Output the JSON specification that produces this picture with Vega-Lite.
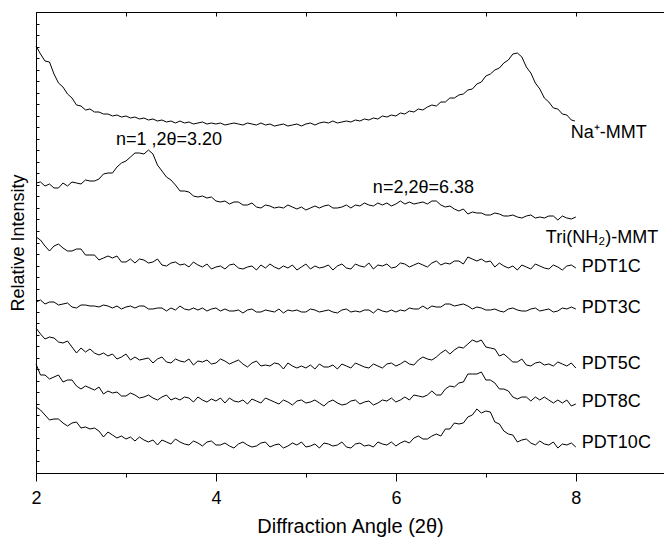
{
"$schema":"https://vega.github.io/schema/vega-lite/v6.json",
"autosize":{"type":"none"},
"padding":{"left":36,"top":12,"right":0,"bottom":65},
"width":628,"height":461,
"background":"white",
"config":{"view":{"stroke":null},"font":"Liberation Sans","axis":{"grid":false,"domainColor":"#000","tickColor":"#000","labelColor":"#000","titleColor":"#000","titleFontWeight":"normal","labelFont":"Liberation Sans","titleFont":"Liberation Sans","domainWidth":1,"tickWidth":1}},
"datasets":{
"traces":[
{"s":"Na","x":2,"y":427},{"s":"Na","x":2.05,"y":419},{"s":"Na","x":2.1,"y":412},{"s":"Na","x":2.15,"y":411},{"s":"Na","x":2.2,"y":399},{"s":"Na","x":2.25,"y":390},{"s":"Na","x":2.3,"y":386},{"s":"Na","x":2.35,"y":379},{"s":"Na","x":2.4,"y":375},{"s":"Na","x":2.45,"y":368},
{"s":"Na","x":2.5,"y":367},{"s":"Na","x":2.55,"y":363},{"s":"Na","x":2.6,"y":364},{"s":"Na","x":2.65,"y":361},{"s":"Na","x":2.7,"y":361},{"s":"Na","x":2.75,"y":359},{"s":"Na","x":2.8,"y":359},{"s":"Na","x":2.85,"y":357},{"s":"Na","x":2.9,"y":358},{"s":"Na","x":2.95,"y":356},
{"s":"Na","x":3,"y":357},{"s":"Na","x":3.05,"y":355},{"s":"Na","x":3.1,"y":356},{"s":"Na","x":3.15,"y":354},{"s":"Na","x":3.2,"y":355},{"s":"Na","x":3.25,"y":353},{"s":"Na","x":3.3,"y":354},{"s":"Na","x":3.35,"y":352},{"s":"Na","x":3.4,"y":353},{"s":"Na","x":3.45,"y":351},
{"s":"Na","x":3.5,"y":352},{"s":"Na","x":3.55,"y":350},{"s":"Na","x":3.6,"y":352},{"s":"Na","x":3.65,"y":350},{"s":"Na","x":3.7,"y":351},{"s":"Na","x":3.75,"y":349},{"s":"Na","x":3.8,"y":350},{"s":"Na","x":3.85,"y":351},{"s":"Na","x":3.9,"y":349},{"s":"Na","x":3.95,"y":350},
{"s":"Na","x":4,"y":349},{"s":"Na","x":4.05,"y":350},{"s":"Na","x":4.1,"y":348},{"s":"Na","x":4.15,"y":349},{"s":"Na","x":4.2,"y":350},{"s":"Na","x":4.25,"y":349},{"s":"Na","x":4.3,"y":348},{"s":"Na","x":4.35,"y":350},{"s":"Na","x":4.4,"y":349},{"s":"Na","x":4.45,"y":348},
{"s":"Na","x":4.5,"y":350},{"s":"Na","x":4.55,"y":348},{"s":"Na","x":4.6,"y":349},{"s":"Na","x":4.65,"y":347},{"s":"Na","x":4.7,"y":348},{"s":"Na","x":4.75,"y":349},{"s":"Na","x":4.8,"y":347},{"s":"Na","x":4.85,"y":348},{"s":"Na","x":4.9,"y":349},{"s":"Na","x":4.95,"y":347},
{"s":"Na","x":5,"y":349},{"s":"Na","x":5.05,"y":350},{"s":"Na","x":5.1,"y":348},{"s":"Na","x":5.15,"y":350},{"s":"Na","x":5.2,"y":351},{"s":"Na","x":5.25,"y":350},{"s":"Na","x":5.3,"y":352},{"s":"Na","x":5.35,"y":350},{"s":"Na","x":5.4,"y":351},{"s":"Na","x":5.45,"y":352},
{"s":"Na","x":5.5,"y":351},{"s":"Na","x":5.55,"y":353},{"s":"Na","x":5.6,"y":352},{"s":"Na","x":5.65,"y":354},{"s":"Na","x":5.7,"y":353},{"s":"Na","x":5.75,"y":355},{"s":"Na","x":5.8,"y":354},{"s":"Na","x":5.85,"y":357},{"s":"Na","x":5.9,"y":356},{"s":"Na","x":5.95,"y":358},
{"s":"Na","x":6,"y":357},{"s":"Na","x":6.05,"y":360},{"s":"Na","x":6.1,"y":359},{"s":"Na","x":6.15,"y":362},{"s":"Na","x":6.2,"y":361},{"s":"Na","x":6.25,"y":364},{"s":"Na","x":6.3,"y":363},{"s":"Na","x":6.35,"y":366},{"s":"Na","x":6.4,"y":368},{"s":"Na","x":6.45,"y":367},
{"s":"Na","x":6.5,"y":371},{"s":"Na","x":6.55,"y":371},{"s":"Na","x":6.6,"y":375},{"s":"Na","x":6.65,"y":375},{"s":"Na","x":6.7,"y":378},{"s":"Na","x":6.75,"y":379},{"s":"Na","x":6.8,"y":383},{"s":"Na","x":6.85,"y":384},{"s":"Na","x":6.9,"y":389},{"s":"Na","x":6.95,"y":391},
{"s":"Na","x":7,"y":397},{"s":"Na","x":7.05,"y":399},{"s":"Na","x":7.1,"y":403},{"s":"Na","x":7.15,"y":405},{"s":"Na","x":7.2,"y":410},{"s":"Na","x":7.25,"y":413},{"s":"Na","x":7.3,"y":419},{"s":"Na","x":7.35,"y":420},{"s":"Na","x":7.4,"y":416},{"s":"Na","x":7.45,"y":406},
{"s":"Na","x":7.5,"y":400},{"s":"Na","x":7.55,"y":390},{"s":"Na","x":7.6,"y":384},{"s":"Na","x":7.65,"y":375},{"s":"Na","x":7.7,"y":371},{"s":"Na","x":7.75,"y":365},{"s":"Na","x":7.8,"y":364},{"s":"Na","x":7.85,"y":359},{"s":"Na","x":7.9,"y":358},{"s":"Na","x":7.95,"y":353},
{"s":"Na","x":7.99,"y":352},
{"s":"Tri","x":2,"y":290},{"s":"Tri","x":2.05,"y":291},{"s":"Tri","x":2.1,"y":287},{"s":"Tri","x":2.15,"y":289},{"s":"Tri","x":2.2,"y":285},{"s":"Tri","x":2.25,"y":285},{"s":"Tri","x":2.3,"y":290},{"s":"Tri","x":2.35,"y":287},{"s":"Tri","x":2.4,"y":291},{"s":"Tri","x":2.45,"y":290},
{"s":"Tri","x":2.5,"y":289},{"s":"Tri","x":2.55,"y":293},{"s":"Tri","x":2.6,"y":292},{"s":"Tri","x":2.65,"y":292},{"s":"Tri","x":2.7,"y":294},{"s":"Tri","x":2.75,"y":299},{"s":"Tri","x":2.8,"y":300},{"s":"Tri","x":2.85,"y":300},{"s":"Tri","x":2.9,"y":306},{"s":"Tri","x":2.95,"y":310},
{"s":"Tri","x":3,"y":312},{"s":"Tri","x":3.05,"y":316},{"s":"Tri","x":3.1,"y":320},{"s":"Tri","x":3.15,"y":320},{"s":"Tri","x":3.2,"y":319},{"s":"Tri","x":3.25,"y":323},{"s":"Tri","x":3.3,"y":319},{"s":"Tri","x":3.35,"y":308},{"s":"Tri","x":3.4,"y":302},{"s":"Tri","x":3.45,"y":296},
{"s":"Tri","x":3.5,"y":293},{"s":"Tri","x":3.55,"y":288},{"s":"Tri","x":3.6,"y":282},{"s":"Tri","x":3.65,"y":282},{"s":"Tri","x":3.7,"y":281},{"s":"Tri","x":3.75,"y":277},{"s":"Tri","x":3.8,"y":276},{"s":"Tri","x":3.85,"y":277},{"s":"Tri","x":3.9,"y":275},{"s":"Tri","x":3.95,"y":276},
{"s":"Tri","x":4,"y":272},{"s":"Tri","x":4.05,"y":271},{"s":"Tri","x":4.1,"y":272},{"s":"Tri","x":4.15,"y":269},{"s":"Tri","x":4.2,"y":271},{"s":"Tri","x":4.25,"y":271},{"s":"Tri","x":4.3,"y":268},{"s":"Tri","x":4.35,"y":268},{"s":"Tri","x":4.4,"y":270},{"s":"Tri","x":4.45,"y":266},
{"s":"Tri","x":4.5,"y":265},{"s":"Tri","x":4.55,"y":268},{"s":"Tri","x":4.6,"y":267},{"s":"Tri","x":4.65,"y":265},{"s":"Tri","x":4.7,"y":266},{"s":"Tri","x":4.75,"y":265},{"s":"Tri","x":4.8,"y":268},{"s":"Tri","x":4.85,"y":266},{"s":"Tri","x":4.9,"y":264},{"s":"Tri","x":4.95,"y":266},
{"s":"Tri","x":5,"y":263},{"s":"Tri","x":5.05,"y":265},{"s":"Tri","x":5.1,"y":267},{"s":"Tri","x":5.15,"y":265},{"s":"Tri","x":5.2,"y":267},{"s":"Tri","x":5.25,"y":268},{"s":"Tri","x":5.3,"y":265},{"s":"Tri","x":5.35,"y":265},{"s":"Tri","x":5.4,"y":266},{"s":"Tri","x":5.45,"y":268},
{"s":"Tri","x":5.5,"y":265},{"s":"Tri","x":5.55,"y":268},{"s":"Tri","x":5.6,"y":267},{"s":"Tri","x":5.65,"y":270},{"s":"Tri","x":5.7,"y":268},{"s":"Tri","x":5.75,"y":267},{"s":"Tri","x":5.8,"y":270},{"s":"Tri","x":5.85,"y":268},{"s":"Tri","x":5.9,"y":270},{"s":"Tri","x":5.95,"y":267},
{"s":"Tri","x":6,"y":269},{"s":"Tri","x":6.05,"y":272},{"s":"Tri","x":6.1,"y":269},{"s":"Tri","x":6.15,"y":271},{"s":"Tri","x":6.2,"y":269},{"s":"Tri","x":6.25,"y":270},{"s":"Tri","x":6.3,"y":271},{"s":"Tri","x":6.35,"y":269},{"s":"Tri","x":6.4,"y":272},{"s":"Tri","x":6.45,"y":272},
{"s":"Tri","x":6.5,"y":268},{"s":"Tri","x":6.55,"y":266},{"s":"Tri","x":6.6,"y":267},{"s":"Tri","x":6.65,"y":264},{"s":"Tri","x":6.7,"y":262},{"s":"Tri","x":6.75,"y":264},{"s":"Tri","x":6.8,"y":259},{"s":"Tri","x":6.85,"y":261},{"s":"Tri","x":6.9,"y":260},{"s":"Tri","x":6.95,"y":260},
{"s":"Tri","x":7,"y":258},{"s":"Tri","x":7.05,"y":258},{"s":"Tri","x":7.1,"y":260},{"s":"Tri","x":7.15,"y":259},{"s":"Tri","x":7.2,"y":257},{"s":"Tri","x":7.25,"y":257},{"s":"Tri","x":7.3,"y":258},{"s":"Tri","x":7.35,"y":256},{"s":"Tri","x":7.4,"y":255},{"s":"Tri","x":7.45,"y":257},
{"s":"Tri","x":7.5,"y":258},{"s":"Tri","x":7.55,"y":255},{"s":"Tri","x":7.6,"y":256},{"s":"Tri","x":7.65,"y":255},{"s":"Tri","x":7.7,"y":257},{"s":"Tri","x":7.75,"y":257},{"s":"Tri","x":7.8,"y":253},{"s":"Tri","x":7.85,"y":257},{"s":"Tri","x":7.9,"y":255},{"s":"Tri","x":7.95,"y":254},
{"s":"Tri","x":8,"y":256},
{"s":"P1","x":2,"y":236},{"s":"P1","x":2.05,"y":233},{"s":"P1","x":2.1,"y":227},{"s":"P1","x":2.15,"y":222},{"s":"P1","x":2.2,"y":227},{"s":"P1","x":2.25,"y":229},{"s":"P1","x":2.3,"y":225},{"s":"P1","x":2.35,"y":222},{"s":"P1","x":2.4,"y":222},{"s":"P1","x":2.45,"y":224},
{"s":"P1","x":2.5,"y":224},{"s":"P1","x":2.55,"y":218},{"s":"P1","x":2.6,"y":218},{"s":"P1","x":2.65,"y":218},{"s":"P1","x":2.7,"y":213},{"s":"P1","x":2.75,"y":215},{"s":"P1","x":2.8,"y":217},{"s":"P1","x":2.85,"y":215},{"s":"P1","x":2.9,"y":217},{"s":"P1","x":2.95,"y":211},
{"s":"P1","x":3,"y":211},{"s":"P1","x":3.05,"y":214},{"s":"P1","x":3.1,"y":210},{"s":"P1","x":3.15,"y":214},{"s":"P1","x":3.2,"y":213},{"s":"P1","x":3.25,"y":210},{"s":"P1","x":3.3,"y":211},{"s":"P1","x":3.35,"y":214},{"s":"P1","x":3.4,"y":208},{"s":"P1","x":3.45,"y":207},
{"s":"P1","x":3.5,"y":210},{"s":"P1","x":3.55,"y":211},{"s":"P1","x":3.6,"y":208},{"s":"P1","x":3.65,"y":209},{"s":"P1","x":3.7,"y":206},{"s":"P1","x":3.75,"y":211},{"s":"P1","x":3.8,"y":208},{"s":"P1","x":3.85,"y":206},{"s":"P1","x":3.9,"y":209},{"s":"P1","x":3.95,"y":204},
{"s":"P1","x":4,"y":206},{"s":"P1","x":4.05,"y":207},{"s":"P1","x":4.1,"y":204},{"s":"P1","x":4.15,"y":208},{"s":"P1","x":4.2,"y":209},{"s":"P1","x":4.25,"y":205},{"s":"P1","x":4.3,"y":204},{"s":"P1","x":4.35,"y":206},{"s":"P1","x":4.4,"y":207},{"s":"P1","x":4.45,"y":203},
{"s":"P1","x":4.5,"y":208},{"s":"P1","x":4.55,"y":205},{"s":"P1","x":4.6,"y":209},{"s":"P1","x":4.65,"y":206},{"s":"P1","x":4.7,"y":204},{"s":"P1","x":4.75,"y":207},{"s":"P1","x":4.8,"y":205},{"s":"P1","x":4.85,"y":208},{"s":"P1","x":4.9,"y":203},{"s":"P1","x":4.95,"y":206},
{"s":"P1","x":5,"y":209},{"s":"P1","x":5.05,"y":204},{"s":"P1","x":5.1,"y":207},{"s":"P1","x":5.15,"y":205},{"s":"P1","x":5.2,"y":206},{"s":"P1","x":5.25,"y":208},{"s":"P1","x":5.3,"y":203},{"s":"P1","x":5.35,"y":207},{"s":"P1","x":5.4,"y":209},{"s":"P1","x":5.45,"y":205},
{"s":"P1","x":5.5,"y":204},{"s":"P1","x":5.55,"y":209},{"s":"P1","x":5.6,"y":207},{"s":"P1","x":5.65,"y":206},{"s":"P1","x":5.7,"y":210},{"s":"P1","x":5.75,"y":204},{"s":"P1","x":5.8,"y":208},{"s":"P1","x":5.85,"y":207},{"s":"P1","x":5.9,"y":209},{"s":"P1","x":5.95,"y":205},
{"s":"P1","x":6,"y":206},{"s":"P1","x":6.05,"y":210},{"s":"P1","x":6.1,"y":209},{"s":"P1","x":6.15,"y":206},{"s":"P1","x":6.2,"y":208},{"s":"P1","x":6.25,"y":210},{"s":"P1","x":6.3,"y":208},{"s":"P1","x":6.35,"y":206},{"s":"P1","x":6.4,"y":210},{"s":"P1","x":6.45,"y":212},
{"s":"P1","x":6.5,"y":208},{"s":"P1","x":6.55,"y":210},{"s":"P1","x":6.6,"y":209},{"s":"P1","x":6.65,"y":212},{"s":"P1","x":6.7,"y":212},{"s":"P1","x":6.75,"y":209},{"s":"P1","x":6.8,"y":216},{"s":"P1","x":6.85,"y":214},{"s":"P1","x":6.9,"y":212},{"s":"P1","x":6.95,"y":214},
{"s":"P1","x":7,"y":211},{"s":"P1","x":7.05,"y":212},{"s":"P1","x":7.1,"y":206},{"s":"P1","x":7.15,"y":210},{"s":"P1","x":7.2,"y":207},{"s":"P1","x":7.25,"y":205},{"s":"P1","x":7.3,"y":207},{"s":"P1","x":7.35,"y":203},{"s":"P1","x":7.4,"y":208},{"s":"P1","x":7.45,"y":206},
{"s":"P1","x":7.5,"y":204},{"s":"P1","x":7.55,"y":209},{"s":"P1","x":7.6,"y":207},{"s":"P1","x":7.65,"y":205},{"s":"P1","x":7.7,"y":204},{"s":"P1","x":7.75,"y":208},{"s":"P1","x":7.8,"y":206},{"s":"P1","x":7.85,"y":203},{"s":"P1","x":7.9,"y":207},{"s":"P1","x":7.95,"y":208},
{"s":"P1","x":8,"y":205},
{"s":"P3","x":2,"y":171},{"s":"P3","x":2.05,"y":173},{"s":"P3","x":2.1,"y":169},{"s":"P3","x":2.15,"y":171},{"s":"P3","x":2.2,"y":171},{"s":"P3","x":2.25,"y":168},{"s":"P3","x":2.3,"y":169},{"s":"P3","x":2.35,"y":170},{"s":"P3","x":2.4,"y":166},{"s":"P3","x":2.45,"y":165},
{"s":"P3","x":2.5,"y":168},{"s":"P3","x":2.55,"y":168},{"s":"P3","x":2.6,"y":167},{"s":"P3","x":2.65,"y":167},{"s":"P3","x":2.7,"y":166},{"s":"P3","x":2.75,"y":168},{"s":"P3","x":2.8,"y":167},{"s":"P3","x":2.85,"y":165},{"s":"P3","x":2.9,"y":167},{"s":"P3","x":2.95,"y":164},
{"s":"P3","x":3,"y":166},{"s":"P3","x":3.05,"y":167},{"s":"P3","x":3.1,"y":165},{"s":"P3","x":3.15,"y":167},{"s":"P3","x":3.2,"y":167},{"s":"P3","x":3.25,"y":164},{"s":"P3","x":3.3,"y":164},{"s":"P3","x":3.35,"y":165},{"s":"P3","x":3.4,"y":165},{"s":"P3","x":3.45,"y":162},
{"s":"P3","x":3.5,"y":165},{"s":"P3","x":3.55,"y":163},{"s":"P3","x":3.6,"y":167},{"s":"P3","x":3.65,"y":164},{"s":"P3","x":3.7,"y":163},{"s":"P3","x":3.75,"y":165},{"s":"P3","x":3.8,"y":163},{"s":"P3","x":3.85,"y":165},{"s":"P3","x":3.9,"y":162},{"s":"P3","x":3.95,"y":164},
{"s":"P3","x":4,"y":165},{"s":"P3","x":4.05,"y":162},{"s":"P3","x":4.1,"y":164},{"s":"P3","x":4.15,"y":162},{"s":"P3","x":4.2,"y":162},{"s":"P3","x":4.25,"y":163},{"s":"P3","x":4.3,"y":160},{"s":"P3","x":4.35,"y":163},{"s":"P3","x":4.4,"y":164},{"s":"P3","x":4.45,"y":161},
{"s":"P3","x":4.5,"y":161},{"s":"P3","x":4.55,"y":163},{"s":"P3","x":4.6,"y":162},{"s":"P3","x":4.65,"y":161},{"s":"P3","x":4.7,"y":164},{"s":"P3","x":4.75,"y":160},{"s":"P3","x":4.8,"y":163},{"s":"P3","x":4.85,"y":162},{"s":"P3","x":4.9,"y":163},{"s":"P3","x":4.95,"y":161},
{"s":"P3","x":5,"y":161},{"s":"P3","x":5.05,"y":164},{"s":"P3","x":5.1,"y":163},{"s":"P3","x":5.15,"y":161},{"s":"P3","x":5.2,"y":162},{"s":"P3","x":5.25,"y":163},{"s":"P3","x":5.3,"y":161},{"s":"P3","x":5.35,"y":160},{"s":"P3","x":5.4,"y":163},{"s":"P3","x":5.45,"y":164},
{"s":"P3","x":5.5,"y":161},{"s":"P3","x":5.55,"y":162},{"s":"P3","x":5.6,"y":161},{"s":"P3","x":5.65,"y":163},{"s":"P3","x":5.7,"y":163},{"s":"P3","x":5.75,"y":160},{"s":"P3","x":5.8,"y":164},{"s":"P3","x":5.85,"y":162},{"s":"P3","x":5.9,"y":161},{"s":"P3","x":5.95,"y":163},
{"s":"P3","x":6,"y":161},{"s":"P3","x":6.05,"y":163},{"s":"P3","x":6.1,"y":162},{"s":"P3","x":6.15,"y":165},{"s":"P3","x":6.2,"y":164},{"s":"P3","x":6.25,"y":164},{"s":"P3","x":6.3,"y":167},{"s":"P3","x":6.35,"y":164},{"s":"P3","x":6.4,"y":167},{"s":"P3","x":6.45,"y":166},
{"s":"P3","x":6.5,"y":166},{"s":"P3","x":6.55,"y":169},{"s":"P3","x":6.6,"y":169},{"s":"P3","x":6.65,"y":167},{"s":"P3","x":6.7,"y":168},{"s":"P3","x":6.75,"y":169},{"s":"P3","x":6.8,"y":167},{"s":"P3","x":6.85,"y":164},{"s":"P3","x":6.9,"y":166},{"s":"P3","x":6.95,"y":165},
{"s":"P3","x":7,"y":163},{"s":"P3","x":7.05,"y":163},{"s":"P3","x":7.1,"y":164},{"s":"P3","x":7.15,"y":162},{"s":"P3","x":7.2,"y":161},{"s":"P3","x":7.25,"y":164},{"s":"P3","x":7.3,"y":165},{"s":"P3","x":7.35,"y":163},{"s":"P3","x":7.4,"y":162},{"s":"P3","x":7.45,"y":162},
{"s":"P3","x":7.5,"y":164},{"s":"P3","x":7.55,"y":165},{"s":"P3","x":7.6,"y":162},{"s":"P3","x":7.65,"y":163},{"s":"P3","x":7.7,"y":164},{"s":"P3","x":7.75,"y":161},{"s":"P3","x":7.8,"y":162},{"s":"P3","x":7.85,"y":165},{"s":"P3","x":7.9,"y":164},{"s":"P3","x":7.95,"y":166},
{"s":"P3","x":8,"y":164},
{"s":"P5","x":2,"y":145},{"s":"P5","x":2.05,"y":139},{"s":"P5","x":2.1,"y":134},{"s":"P5","x":2.15,"y":136},{"s":"P5","x":2.2,"y":135},{"s":"P5","x":2.25,"y":131},{"s":"P5","x":2.3,"y":130},{"s":"P5","x":2.35,"y":132},{"s":"P5","x":2.4,"y":126},{"s":"P5","x":2.45,"y":120},
{"s":"P5","x":2.5,"y":125},{"s":"P5","x":2.55,"y":121},{"s":"P5","x":2.6,"y":124},{"s":"P5","x":2.65,"y":120},{"s":"P5","x":2.7,"y":118},{"s":"P5","x":2.75,"y":120},{"s":"P5","x":2.8,"y":117},{"s":"P5","x":2.85,"y":119},{"s":"P5","x":2.9,"y":114},{"s":"P5","x":2.95,"y":116},
{"s":"P5","x":3,"y":119},{"s":"P5","x":3.05,"y":113},{"s":"P5","x":3.1,"y":116},{"s":"P5","x":3.15,"y":113},{"s":"P5","x":3.2,"y":114},{"s":"P5","x":3.25,"y":115},{"s":"P5","x":3.3,"y":110},{"s":"P5","x":3.35,"y":114},{"s":"P5","x":3.4,"y":116},{"s":"P5","x":3.45,"y":111},
{"s":"P5","x":3.5,"y":110},{"s":"P5","x":3.55,"y":114},{"s":"P5","x":3.6,"y":112},{"s":"P5","x":3.65,"y":111},{"s":"P5","x":3.7,"y":114},{"s":"P5","x":3.75,"y":108},{"s":"P5","x":3.8,"y":112},{"s":"P5","x":3.85,"y":111},{"s":"P5","x":3.9,"y":113},{"s":"P5","x":3.95,"y":109},
{"s":"P5","x":4,"y":110},{"s":"P5","x":4.05,"y":114},{"s":"P5","x":4.1,"y":112},{"s":"P5","x":4.15,"y":109},{"s":"P5","x":4.2,"y":111},{"s":"P5","x":4.25,"y":113},{"s":"P5","x":4.3,"y":109},{"s":"P5","x":4.35,"y":106},{"s":"P5","x":4.4,"y":110},{"s":"P5","x":4.45,"y":112},
{"s":"P5","x":4.5,"y":107},{"s":"P5","x":4.55,"y":108},{"s":"P5","x":4.6,"y":107},{"s":"P5","x":4.65,"y":110},{"s":"P5","x":4.7,"y":109},{"s":"P5","x":4.75,"y":104},{"s":"P5","x":4.8,"y":110},{"s":"P5","x":4.85,"y":107},{"s":"P5","x":4.9,"y":105},{"s":"P5","x":4.95,"y":107},
{"s":"P5","x":5,"y":105},{"s":"P5","x":5.05,"y":108},{"s":"P5","x":5.1,"y":104},{"s":"P5","x":5.15,"y":109},{"s":"P5","x":5.2,"y":106},{"s":"P5","x":5.25,"y":106},{"s":"P5","x":5.3,"y":108},{"s":"P5","x":5.35,"y":104},{"s":"P5","x":5.4,"y":109},{"s":"P5","x":5.45,"y":107},
{"s":"P5","x":5.5,"y":105},{"s":"P5","x":5.55,"y":110},{"s":"P5","x":5.6,"y":108},{"s":"P5","x":5.65,"y":106},{"s":"P5","x":5.7,"y":105},{"s":"P5","x":5.75,"y":109},{"s":"P5","x":5.8,"y":107},{"s":"P5","x":5.85,"y":105},{"s":"P5","x":5.9,"y":109},{"s":"P5","x":5.95,"y":110},
{"s":"P5","x":6,"y":107},{"s":"P5","x":6.05,"y":109},{"s":"P5","x":6.1,"y":112},{"s":"P5","x":6.15,"y":109},{"s":"P5","x":6.2,"y":108},{"s":"P5","x":6.25,"y":113},{"s":"P5","x":6.3,"y":116},{"s":"P5","x":6.35,"y":114},{"s":"P5","x":6.4,"y":113},{"s":"P5","x":6.45,"y":116},
{"s":"P5","x":6.5,"y":120},{"s":"P5","x":6.55,"y":123},{"s":"P5","x":6.6,"y":119},{"s":"P5","x":6.65,"y":123},{"s":"P5","x":6.7,"y":126},{"s":"P5","x":6.75,"y":125},{"s":"P5","x":6.8,"y":129},{"s":"P5","x":6.85,"y":133},{"s":"P5","x":6.9,"y":131},{"s":"P5","x":6.95,"y":133},
{"s":"P5","x":7,"y":126},{"s":"P5","x":7.05,"y":125},{"s":"P5","x":7.1,"y":124},{"s":"P5","x":7.15,"y":117},{"s":"P5","x":7.2,"y":119},{"s":"P5","x":7.25,"y":115},{"s":"P5","x":7.3,"y":111},{"s":"P5","x":7.35,"y":111},{"s":"P5","x":7.4,"y":114},{"s":"P5","x":7.45,"y":108},
{"s":"P5","x":7.5,"y":107},{"s":"P5","x":7.55,"y":110},{"s":"P5","x":7.6,"y":111},{"s":"P5","x":7.65,"y":108},{"s":"P5","x":7.7,"y":109},{"s":"P5","x":7.75,"y":107},{"s":"P5","x":7.8,"y":111},{"s":"P5","x":7.85,"y":109},{"s":"P5","x":7.9,"y":107},{"s":"P5","x":7.95,"y":110},
{"s":"P5","x":8,"y":105},
{"s":"P8","x":2,"y":109},{"s":"P8","x":2.05,"y":98},{"s":"P8","x":2.1,"y":98},{"s":"P8","x":2.15,"y":94},{"s":"P8","x":2.2,"y":96},{"s":"P8","x":2.25,"y":98},{"s":"P8","x":2.3,"y":91},{"s":"P8","x":2.35,"y":93},{"s":"P8","x":2.4,"y":93},{"s":"P8","x":2.45,"y":87},
{"s":"P8","x":2.5,"y":84},{"s":"P8","x":2.55,"y":87},{"s":"P8","x":2.6,"y":85},{"s":"P8","x":2.65,"y":83},{"s":"P8","x":2.7,"y":86},{"s":"P8","x":2.75,"y":79},{"s":"P8","x":2.8,"y":82},{"s":"P8","x":2.85,"y":80},{"s":"P8","x":2.9,"y":81},{"s":"P8","x":2.95,"y":77},
{"s":"P8","x":3,"y":77},{"s":"P8","x":3.05,"y":80},{"s":"P8","x":3.1,"y":78},{"s":"P8","x":3.15,"y":75},{"s":"P8","x":3.2,"y":76},{"s":"P8","x":3.25,"y":78},{"s":"P8","x":3.3,"y":75},{"s":"P8","x":3.35,"y":73},{"s":"P8","x":3.4,"y":76},{"s":"P8","x":3.45,"y":78},
{"s":"P8","x":3.5,"y":73},{"s":"P8","x":3.55,"y":75},{"s":"P8","x":3.6,"y":73},{"s":"P8","x":3.65,"y":76},{"s":"P8","x":3.7,"y":75},{"s":"P8","x":3.75,"y":71},{"s":"P8","x":3.8,"y":76},{"s":"P8","x":3.85,"y":73},{"s":"P8","x":3.9,"y":71},{"s":"P8","x":3.95,"y":74},
{"s":"P8","x":4,"y":72},{"s":"P8","x":4.05,"y":75},{"s":"P8","x":4.1,"y":70},{"s":"P8","x":4.15,"y":75},{"s":"P8","x":4.2,"y":72},{"s":"P8","x":4.25,"y":71},{"s":"P8","x":4.3,"y":73},{"s":"P8","x":4.35,"y":69},{"s":"P8","x":4.4,"y":74},{"s":"P8","x":4.45,"y":72},
{"s":"P8","x":4.5,"y":70},{"s":"P8","x":4.55,"y":75},{"s":"P8","x":4.6,"y":73},{"s":"P8","x":4.65,"y":71},{"s":"P8","x":4.7,"y":69},{"s":"P8","x":4.75,"y":73},{"s":"P8","x":4.8,"y":71},{"s":"P8","x":4.85,"y":68},{"s":"P8","x":4.9,"y":72},{"s":"P8","x":4.95,"y":73},
{"s":"P8","x":5,"y":70},{"s":"P8","x":5.05,"y":71},{"s":"P8","x":5.1,"y":73},{"s":"P8","x":5.15,"y":70},{"s":"P8","x":5.2,"y":67},{"s":"P8","x":5.25,"y":71},{"s":"P8","x":5.3,"y":73},{"s":"P8","x":5.35,"y":70},{"s":"P8","x":5.4,"y":68},{"s":"P8","x":5.45,"y":69},
{"s":"P8","x":5.5,"y":72},{"s":"P8","x":5.55,"y":73},{"s":"P8","x":5.6,"y":69},{"s":"P8","x":5.65,"y":71},{"s":"P8","x":5.7,"y":72},{"s":"P8","x":5.75,"y":68},{"s":"P8","x":5.8,"y":70},{"s":"P8","x":5.85,"y":73},{"s":"P8","x":5.9,"y":72},{"s":"P8","x":5.95,"y":75},
{"s":"P8","x":6,"y":71},{"s":"P8","x":6.05,"y":73},{"s":"P8","x":6.1,"y":76},{"s":"P8","x":6.15,"y":73},{"s":"P8","x":6.2,"y":78},{"s":"P8","x":6.25,"y":77},{"s":"P8","x":6.3,"y":76},{"s":"P8","x":6.35,"y":78},{"s":"P8","x":6.4,"y":82},{"s":"P8","x":6.45,"y":78},
{"s":"P8","x":6.5,"y":78},{"s":"P8","x":6.55,"y":84},{"s":"P8","x":6.6,"y":87},{"s":"P8","x":6.65,"y":86},{"s":"P8","x":6.7,"y":90},{"s":"P8","x":6.75,"y":91},{"s":"P8","x":6.8,"y":99},{"s":"P8","x":6.85,"y":99},{"s":"P8","x":6.9,"y":99},{"s":"P8","x":6.95,"y":101},
{"s":"P8","x":7,"y":93},{"s":"P8","x":7.05,"y":93},{"s":"P8","x":7.1,"y":90},{"s":"P8","x":7.15,"y":84},{"s":"P8","x":7.2,"y":84},{"s":"P8","x":7.25,"y":82},{"s":"P8","x":7.3,"y":76},{"s":"P8","x":7.35,"y":74},{"s":"P8","x":7.4,"y":76},{"s":"P8","x":7.45,"y":76},
{"s":"P8","x":7.5,"y":72},{"s":"P8","x":7.55,"y":76},{"s":"P8","x":7.6,"y":73},{"s":"P8","x":7.65,"y":76},{"s":"P8","x":7.7,"y":73},{"s":"P8","x":7.75,"y":70},{"s":"P8","x":7.8,"y":73},{"s":"P8","x":7.85,"y":70},{"s":"P8","x":7.9,"y":73},{"s":"P8","x":7.95,"y":67},
{"s":"P8","x":8,"y":69},
{"s":"P10","x":2,"y":66},{"s":"P10","x":2.05,"y":63},{"s":"P10","x":2.1,"y":58},{"s":"P10","x":2.15,"y":53},{"s":"P10","x":2.2,"y":54},{"s":"P10","x":2.25,"y":54},{"s":"P10","x":2.3,"y":50},{"s":"P10","x":2.35,"y":47},{"s":"P10","x":2.4,"y":50},{"s":"P10","x":2.45,"y":51},
{"s":"P10","x":2.5,"y":45},{"s":"P10","x":2.55,"y":46},{"s":"P10","x":2.6,"y":44},{"s":"P10","x":2.65,"y":45},{"s":"P10","x":2.7,"y":42},{"s":"P10","x":2.75,"y":36},{"s":"P10","x":2.8,"y":41},{"s":"P10","x":2.85,"y":38},{"s":"P10","x":2.9,"y":35},{"s":"P10","x":2.95,"y":37},
{"s":"P10","x":3,"y":34},{"s":"P10","x":3.05,"y":36},{"s":"P10","x":3.1,"y":32},{"s":"P10","x":3.15,"y":36},{"s":"P10","x":3.2,"y":33},{"s":"P10","x":3.25,"y":31},{"s":"P10","x":3.3,"y":33},{"s":"P10","x":3.35,"y":28},{"s":"P10","x":3.4,"y":33},{"s":"P10","x":3.45,"y":31},
{"s":"P10","x":3.5,"y":29},{"s":"P10","x":3.55,"y":34},{"s":"P10","x":3.6,"y":31},{"s":"P10","x":3.65,"y":29},{"s":"P10","x":3.7,"y":28},{"s":"P10","x":3.75,"y":32},{"s":"P10","x":3.8,"y":30},{"s":"P10","x":3.85,"y":27},{"s":"P10","x":3.9,"y":31},{"s":"P10","x":3.95,"y":32},
{"s":"P10","x":4,"y":28},{"s":"P10","x":4.05,"y":28},{"s":"P10","x":4.1,"y":30},{"s":"P10","x":4.15,"y":27},{"s":"P10","x":4.2,"y":25},{"s":"P10","x":4.25,"y":29},{"s":"P10","x":4.3,"y":31},{"s":"P10","x":4.35,"y":28},{"s":"P10","x":4.4,"y":26},{"s":"P10","x":4.45,"y":27},
{"s":"P10","x":4.5,"y":30},{"s":"P10","x":4.55,"y":31},{"s":"P10","x":4.6,"y":26},{"s":"P10","x":4.65,"y":28},{"s":"P10","x":4.7,"y":29},{"s":"P10","x":4.75,"y":25},{"s":"P10","x":4.8,"y":27},{"s":"P10","x":4.85,"y":30},{"s":"P10","x":4.9,"y":28},{"s":"P10","x":4.95,"y":31},
{"s":"P10","x":5,"y":26},{"s":"P10","x":5.05,"y":27},{"s":"P10","x":5.1,"y":29},{"s":"P10","x":5.15,"y":25},{"s":"P10","x":5.2,"y":30},{"s":"P10","x":5.25,"y":29},{"s":"P10","x":5.3,"y":27},{"s":"P10","x":5.35,"y":28},{"s":"P10","x":5.4,"y":31},{"s":"P10","x":5.45,"y":26},
{"s":"P10","x":5.5,"y":25},{"s":"P10","x":5.55,"y":29},{"s":"P10","x":5.6,"y":30},{"s":"P10","x":5.65,"y":27},{"s":"P10","x":5.7,"y":28},{"s":"P10","x":5.75,"y":26},{"s":"P10","x":5.8,"y":31},{"s":"P10","x":5.85,"y":29},{"s":"P10","x":5.9,"y":28},{"s":"P10","x":5.95,"y":31},
{"s":"P10","x":6,"y":27},{"s":"P10","x":6.05,"y":30},{"s":"P10","x":6.1,"y":32},{"s":"P10","x":6.15,"y":30},{"s":"P10","x":6.2,"y":35},{"s":"P10","x":6.25,"y":37},{"s":"P10","x":6.3,"y":34},{"s":"P10","x":6.35,"y":34},{"s":"P10","x":6.4,"y":37},{"s":"P10","x":6.45,"y":39},
{"s":"P10","x":6.5,"y":37},{"s":"P10","x":6.55,"y":44},{"s":"P10","x":6.6,"y":44},{"s":"P10","x":6.65,"y":50},{"s":"P10","x":6.7,"y":49},{"s":"P10","x":6.75,"y":50},{"s":"P10","x":6.8,"y":56},{"s":"P10","x":6.85,"y":58},{"s":"P10","x":6.9,"y":64},{"s":"P10","x":6.95,"y":60},
{"s":"P10","x":7,"y":62},{"s":"P10","x":7.05,"y":61},{"s":"P10","x":7.1,"y":51},{"s":"P10","x":7.15,"y":49},{"s":"P10","x":7.2,"y":42},{"s":"P10","x":7.25,"y":39},{"s":"P10","x":7.3,"y":38},{"s":"P10","x":7.35,"y":31},{"s":"P10","x":7.4,"y":33},{"s":"P10","x":7.45,"y":34},
{"s":"P10","x":7.5,"y":30},{"s":"P10","x":7.55,"y":28},{"s":"P10","x":7.6,"y":32},{"s":"P10","x":7.65,"y":29},{"s":"P10","x":7.7,"y":28},{"s":"P10","x":7.75,"y":31},{"s":"P10","x":7.8,"y":25},{"s":"P10","x":7.85,"y":29},{"s":"P10","x":7.9,"y":28},{"s":"P10","x":7.95,"y":30},
{"s":"P10","x":8,"y":26}
],
"labels":[
{"t":"Na⁺-MMT","x":7.944,"y":340},
{"t":"Tri(NH₂)-MMT","x":7.667,"y":235},
{"t":"PDT1C","x":8.067,"y":206},
{"t":"PDT3C","x":8.067,"y":165},
{"t":"PDT5C","x":8.067,"y":109},
{"t":"PDT8C","x":8.067,"y":71},
{"t":"PDT10C","x":8.067,"y":30}
],
"notes":[
{"t":"n=1 ,2θ=3.20","x":3.478,"y":333},
{"t":"n=2,2θ=6.38","x":6.306,"y":285}
]
},
"layer":[
{"data":{"name":"traces"},
 "mark":{"type":"line","color":"#000","strokeWidth":1},
 "encoding":{
  "x":{"field":"x","type":"quantitative","scale":{"domain":[2,8.98],"nice":false,"zero":false},
   "axis":{"orient":"bottom","values":[2,3,4,5,6,7,8],"labelExpr":"datum.value % 2 == 0 ? datum.label : ''","tickSize":{"condition":{"test":"datum.value % 2 == 0","value":8},"value":4},"labelFontSize":18,"labelPadding":8,"labelFlush":false,"labelOverlap":false,"title":"Diffraction Angle (2θ)","titleFontSize":20,"titleY":53,"titleBaseline":"middle"}},
  "y":{"field":"y","type":"quantitative","scale":{"domain":[0,461],"nice":false,"zero":false},
   "axis":{"values":[0,11.525,23.05,34.575,46.1,57.625,69.15,80.675,92.2,103.725,115.25,126.775,138.3,149.825,161.35,172.875,184.4,195.925,207.45,218.975,230.5,242.025,253.55,265.075,276.6,288.125,299.65,311.175,322.7,334.225,345.75,357.275,368.8,380.325,391.85,403.375,414.9,426.425,437.95,449.475,461],"labels":false,"tickSize":-3,"title":"Relative Intensity","titleFontSize":18,"titleX":-18,"titleY":230.5,"titleAngle":-90,"titleBaseline":"middle","titleAlign":"center"}},
  "detail":{"field":"s"}
 }},
{"data":{"name":"labels"},
 "mark":{"type":"text","align":"left","baseline":"middle","fontSize":18,"font":"Liberation Sans","color":"#000"},
 "encoding":{
  "x":{"field":"x","type":"quantitative","scale":{"domain":[2,8.98],"nice":false,"zero":false},"axis":null},
  "y":{"field":"y","type":"quantitative","scale":{"domain":[0,461],"nice":false,"zero":false},"axis":null},
  "text":{"field":"t"}
 }},
{"data":{"name":"notes"},
 "mark":{"type":"text","align":"center","baseline":"middle","fontSize":18,"font":"Liberation Sans","color":"#000"},
 "encoding":{
  "x":{"field":"x","type":"quantitative","scale":{"domain":[2,8.98],"nice":false,"zero":false},"axis":null},
  "y":{"field":"y","type":"quantitative","scale":{"domain":[0,461],"nice":false,"zero":false},"axis":null},
  "text":{"field":"t"}
 }},
{"data":{"name":"notes"},
 "mark":{"type":"point","opacity":0},
 "encoding":{
  "x":{"field":"x","type":"quantitative","scale":{"domain":[2,8.98],"nice":false,"zero":false},
   "axis":{"orient":"top","values":[2,3,4,5,6,7,8],"labels":false,"tickSize":-4,"title":null}},
  "y":{"field":"y","type":"quantitative","scale":{"domain":[0,461],"nice":false,"zero":false},"axis":null}
 }}
],
"resolve":{"axis":{"x":"independent","y":"independent"}}
}
